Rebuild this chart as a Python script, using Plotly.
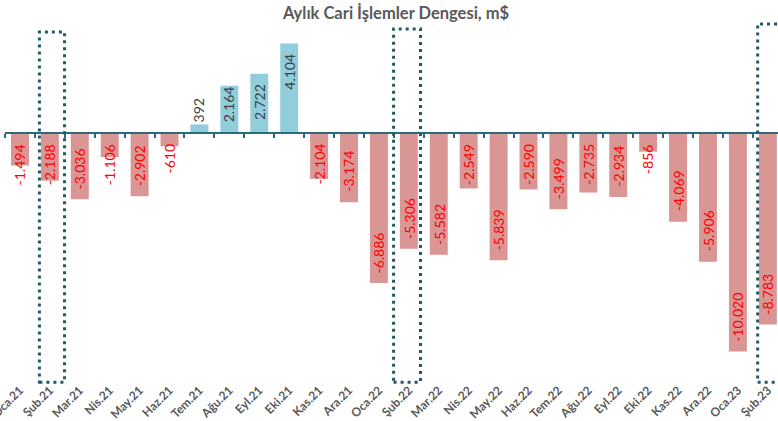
import plotly.graph_objects as go

months = ["Oca.21", "Şub.21", "Mar.21", "Nis.21", "May.21", "Haz.21", "Tem.21", "Ağu.21",
          "Eyl.21", "Eki.21", "Kas.21", "Ara.21", "Oca.22", "Şub.22", "Mar.22", "Nis.22",
          "May.22", "Haz.22", "Tem.22", "Ağu.22", "Eyl.22", "Eki.22", "Kas.22", "Ara.22",
          "Oca.23", "Şub.23"]
balance = [-1494, -2188, -3036, -1106, -2902, -610, 392, 2164, 2722, 4104, -2104, -3174,
           -6886, -5306, -5582, -2549, -5839, -2590, -3499, -2735, -2934, -856, -4069,
           -5906, -10020, -8783]
highlight = ["Şub.21", "Şub.22", "Şub.23"]

POS = "#92CDDC"
NEG = "#DA9694"
TEAL = "#215967"
FONT = "Lato"
LBL = 14

W, H = 778, 421
ML, MR, MT, MB = 5, 0, 20, 36
YMIN, YMAX = -11560, 5183
plot_h = H - MT - MB
px_per_unit = plot_h / (YMAX - YMIN)


def fmt(v):
    s = f"{abs(v):,}".replace(",", ".")
    return ("-" if v < 0 else "") + s


def text_len(t, size=13):
    w = 0
    for ch in t:
        if ch.isdigit():
            w += 0.58 * size
        elif ch == "-":
            w += 0.36 * size
        else:
            w += 0.27 * size
    return w


fig = go.Figure()
fig.add_trace(go.Bar(
    x=months, y=balance,
    marker=dict(color=[POS if v > 0 else NEG for v in balance], line=dict(width=0)),
    xaxis="x2", yaxis="y", hoverinfo="x+y", showlegend=False,
))
fig.add_trace(go.Scatter(x=months, y=[0] * len(months), mode="markers",
                         marker=dict(opacity=0), xaxis="x", yaxis="y",
                         hoverinfo="skip", showlegend=False))

annotations = []
for m, v in zip(months, balance):
    t = fmt(v)
    L = text_len(t, LBL)
    bar_px = abs(v) * px_per_unit
    fits = bar_px - 9 >= L + 10
    color = "#FF0000" if v < 0 else "#404040"
    if v > 0:
        if fits:
            y, ya, ys = v, "top", -8
        else:
            y, ya, ys = 0, "bottom", 9
    else:
        if fits:
            y, ya, ys = v, "bottom", 8
        else:
            y, ya, ys = 0, "top", -9
    annotations.append(dict(x=m, y=y, xref="x2", yref="y", text=t, showarrow=False,
                            textangle=-90, xanchor="center", yanchor=ya, yshift=ys,
                            font=dict(family=FONT, size=LBL, color=color)))

shapes = []
rect_specs = [(0.65, 1.49, 4636), (12.49, 13.39, 4774), (24.66, 25.9, 5003)]
for (x0, x1, top) in rect_specs:
    shapes.append(dict(type="rect", xref="x2", yref="y", x0=x0, x1=x1, y0=-11429, y1=top,
                       line=dict(color=TEAL, width=3, dash="3px,4px"),
                       fillcolor="rgba(0,0,0,0)", layer="above"))

fig.update_layout(
    width=W, height=H,
    margin=dict(l=ML, r=MR, t=MT, b=MB, autoexpand=False),
    plot_bgcolor="white", paper_bgcolor="white",
    bargap=0.4,
    title=dict(text="<b>Aylık Cari İşlemler Dengesi, m$</b>", x=0.509, xref="container",
               y=1 - 13 / H, yref="container", xanchor="center", yanchor="middle",
               font=dict(family=FONT, size=16.5, color="#595959")),
    xaxis=dict(type="category", categoryorder="array", categoryarray=months,
               range=[-0.5, 25.34], showline=False, showgrid=False, zeroline=False,
               anchor="free", position=5 / plot_h,
               ticks="", tickangle=-45, automargin=False,
               tickfont=dict(family=FONT, size=12, color="#595959", weight="bold")),
    xaxis2=dict(type="category", categoryorder="array", categoryarray=months,
                range=[-0.5, 25.34], overlaying="x", anchor="free",
                position=(0 - YMIN) / (YMAX - YMIN), automargin=False,
                showline=True, linecolor="#2C6B7B", linewidth=1.5,
                ticks="outside", tickson="boundaries", ticklen=4, tickcolor="#2C6B7B",
                tickwidth=1.5, showticklabels=False, showgrid=False, zeroline=False),
    yaxis=dict(range=[YMIN, YMAX], visible=False, showgrid=False, zeroline=False,
               automargin=False),
    annotations=annotations,
    shapes=shapes,
)

fig.write_html("out.html", config={"displayModeBar": False},
               post_script="document.body.style.margin='0';document.body.style.overflow='hidden';")
